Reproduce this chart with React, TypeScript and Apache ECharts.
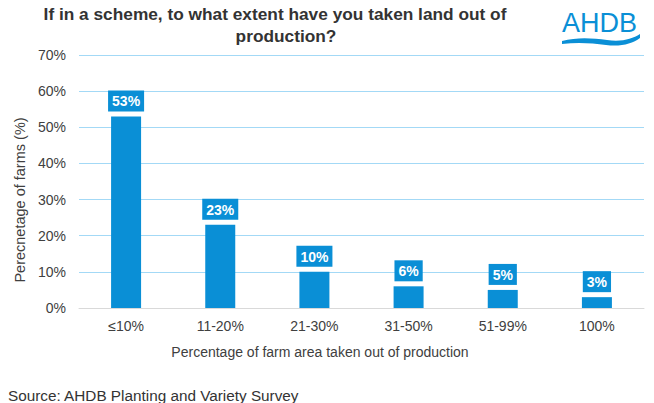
import React, { useEffect, useRef } from "react";
import * as echarts from "echarts";

const categories = ["≤10%", "11-20%", "21-30%", "31-50%", "51-99%", "100%"];
const values = [53, 23, 10, 6, 5, 3];
const titleLines = ["If in a scheme, to what extent have you taken land out of", "production?"];
const xAxisName = "Percentage of farm area taken out of production";
const yAxisName = "Perecnetage of farms (%)";
const sourceText = "Source: AHDB Planting and Variety Survey";

const BLUE = "#0A8FD6";
const FONT = "Liberation Sans, Arial, sans-serif";

export default function App() {
  const ref = useRef<HTMLDivElement>(null);
  useEffect(() => {
    document.body.style.margin = "0";
    if (!ref.current) return;
    echarts.graphic.registerShape(
      "ahdbWave",
      echarts.graphic.extendPath(
        "M0 7 C15 3 30 4 45 6 C60 8 70 5 78 0 L78 4 C70 10 58 13 44 11 C30 9 15 8 0 10 Z",
        {}
      )
    );
    const chart = echarts.init(ref.current, null, { renderer: "svg" });
    chart.setOption({
      animation: false,
      textStyle: { fontFamily: FONT },
      grid: { left: 79, right: 10, top: 55, bottom: 95, containLabel: false },
      xAxis: {
        type: "category",
        data: categories,
        axisLine: { lineStyle: { color: "#D9D9D9" } },
        axisTick: { show: false },
        axisLabel: { fontSize: 14, color: "#404040", margin: 11, fontFamily: FONT },
      },
      yAxis: {
        type: "value",
        min: 0,
        max: 70,
        interval: 10,
        axisLine: { show: false },
        axisTick: { show: false },
        axisLabel: { formatter: "{value}%", fontSize: 14, color: "#404040", margin: 13, fontFamily: FONT },
        splitLine: { lineStyle: { color: "#A3D9F6", width: 1 } },
      },
      series: [
        {
          type: "bar",
          data: values,
          barWidth: 30,
          itemStyle: { color: BLUE },
          label: {
            show: true,
            position: "top",
            distance: 5,
            formatter: "{c}%",
            color: "#fff",
            fontWeight: "bold",
            fontSize: 14,
            fontFamily: FONT,
            backgroundColor: BLUE,
            padding: [4, 4, 3, 4],
          },
        },
      ],
      graphic: [
        {
          type: "text",
          x: 275,
          y: 14,
          style: {
            text: titleLines[0],
            fontSize: 17.3,
            fontWeight: "bold",
            fontFamily: FONT,
            fill: "#333",
            align: "center",
            verticalAlign: "middle",
          },
        },
        {
          type: "text",
          x: 286,
          y: 36,
          style: {
            text: titleLines[1],
            fontSize: 17.3,
            fontWeight: "bold",
            fontFamily: FONT,
            fill: "#333",
            align: "center",
            verticalAlign: "middle",
          },
        },
        {
          type: "text",
          x: 320,
          y: 352,
          style: {
            text: xAxisName,
            fontSize: 14,
            fontFamily: FONT,
            fill: "#404040",
            align: "center",
            verticalAlign: "middle",
          },
        },
        {
          type: "text",
          x: 20,
          y: 200,
          rotation: Math.PI / 2,
          style: {
            text: yAxisName,
            fontSize: 14.5,
            fontFamily: FONT,
            fill: "#404040",
            align: "center",
            verticalAlign: "middle",
          },
        },
        {
          type: "text",
          x: 562,
          y: 23,
          style: {
            text: "AHDB",
            fontSize: 27,
            fontFamily: FONT,
            fill: BLUE,
            verticalAlign: "middle",
          },
        },
        {
          type: "ahdbWave",
          x: 562,
          y: 34,
          scaleX: 1,
          scaleY: 1,
          style: { fill: BLUE },
        },
        {
          type: "text",
          x: 8,
          y: 395,
          style: {
            text: sourceText,
            fontSize: 15.3,
            fontFamily: FONT,
            fill: "#333",
            verticalAlign: "middle",
          },
        },
      ],
    });
    return () => chart.dispose();
  }, []);
  return <div ref={ref} style={{ width: 654, height: 403 }} />;
}
